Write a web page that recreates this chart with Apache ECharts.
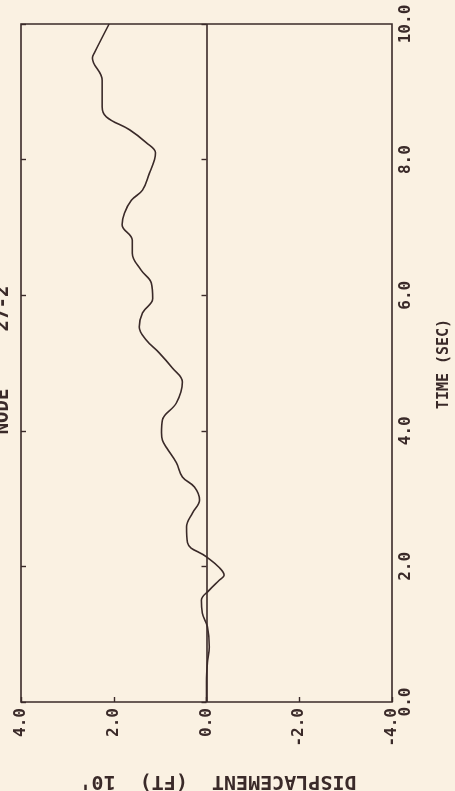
<!DOCTYPE html>
<html>
<head>
<meta charset="utf-8">
<script src="https://cdn.jsdelivr.net/npm/echarts@6/dist/echarts.min.js"></script>
<style>
html,body{margin:0;padding:0;background:#faf1e2;}
#c{width:455px;height:791px;}
</style>
</head>
<body>
<div id="c"></div>
<script>
// Time (s) — original horizontal axis, drawn vertically here (figure is rotated 90° CCW)
var timeSec = [0, 0.30, 0.58, 0.81, 1.11, 1.31, 1.50, 1.65, 1.80, 1.87, 1.98, 2.14, 2.35, 2.58, 2.79, 2.98, 3.17, 3.32, 3.53, 3.75, 3.86, 3.97, 4.16, 4.41, 4.72, 4.93, 5.15, 5.34, 5.53, 5.74, 5.95, 6.18, 6.37, 6.62, 6.81, 7.04, 7.21, 7.40, 7.55, 7.80, 8.00, 8.10, 8.25, 8.44, 8.63, 8.78, 9.17, 9.50, 9.57, 10.0];
// Displacement (ft x 10)
var displacement = [0, 0.00, -0.02, -0.06, -0.02, 0.09, 0.11, -0.06, -0.28, -0.38, -0.28, 0.00, 0.41, 0.43, 0.30, 0.15, 0.26, 0.52, 0.65, 0.86, 0.95, 0.97, 0.95, 0.65, 0.52, 0.74, 1.02, 1.30, 1.45, 1.38, 1.16, 1.19, 1.41, 1.60, 1.60, 1.82, 1.77, 1.62, 1.38, 1.23, 1.12, 1.10, 1.30, 1.66, 2.16, 2.25, 2.25, 2.46, 2.42, 2.10];
var dispTicks = [-4, -2, 0, 2, 4];
var timeTicks = [0, 2, 4, 6, 8, 10];
var titleText = 'NODE     27-2';
var xTitle = 'DISPLACEMENT  (FT)  10\'';
var yTitle = 'TIME (SEC)';

var ink = '#3a2a29';
var font = 'DejaVu Sans Mono';
var pts = timeSec.map(function (t, i) { return [displacement[i], t]; });

var chart = echarts.init(document.getElementById('c'), null, {renderer: 'canvas'});
chart.setOption({
  backgroundColor: '#faf1e2',
  animation: false,
  grid: {left: 21, right: 63, top: 24, bottom: 89, show: true, borderColor: ink, borderWidth: 1.6, backgroundColor: 'transparent'},
  xAxis: {
    type: 'value', inverse: true, min: dispTicks[0], max: dispTicks[dispTicks.length - 1], interval: 2,
    position: 'bottom',
    axisLine: {show: false},
    axisTick: {show: true, inside: true, length: 5, lineStyle: {color: ink, width: 1.4}},
    splitLine: {show: false},
    axisLabel: {show: true, rotate: 90, margin: 6, color: ink, fontFamily: font, fontSize: 16, fontWeight: 'bold',
      formatter: function (v) { return v.toFixed(1); }}
  },
  yAxis: [{
    type: 'value', min: timeTicks[0], max: timeTicks[timeTicks.length - 1], interval: 2,
    position: 'right',
    axisLine: {show: false},
    axisTick: {show: true, inside: true, length: 5, lineStyle: {color: ink, width: 1.4}},
    splitLine: {show: false},
    axisLabel: {show: true, rotate: 90, margin: 6, color: ink, fontFamily: font, fontSize: 16, fontWeight: 'bold',
      formatter: function (v) { return v.toFixed(1); }}
  }, {
    type: 'value', min: timeTicks[0], max: timeTicks[timeTicks.length - 1], interval: 2,
    position: 'left',
    axisLine: {show: false},
    axisTick: {show: true, inside: true, length: 5, lineStyle: {color: ink, width: 1.4}},
    splitLine: {show: false},
    axisLabel: {show: false}
  }],
  series: [{
    type: 'line',
    data: pts,
    showSymbol: false,
    smooth: 0.4,
    lineStyle: {color: ink, width: 1.6},
    markLine: {
      silent: true, symbol: 'none', animation: false,
      label: {show: false},
      lineStyle: {color: ink, width: 1.6, type: 'solid'},
      data: [{xAxis: 0}]
    }
  }],
  graphic: [
    {type: 'text', x: 3, y: 360, rotation: Math.PI / 2,
      style: {text: titleText, fill: ink, font: 'bold 19px "DejaVu Sans Mono"', textAlign: 'center', textVerticalAlign: 'middle'}},
    {type: 'text', x: 444, y: 364, rotation: Math.PI / 2,
      style: {text: yTitle, fill: ink, font: 'bold 15px "DejaVu Sans Mono"', textAlign: 'center', textVerticalAlign: 'middle'}},
    {type: 'text', x: 218, y: 781, rotation: Math.PI,
      style: {text: xTitle, fill: ink, font: 'bold 20px "DejaVu Sans Mono"', textAlign: 'center', textVerticalAlign: 'middle'}}
  ]
});
</script>
</body>
</html>
